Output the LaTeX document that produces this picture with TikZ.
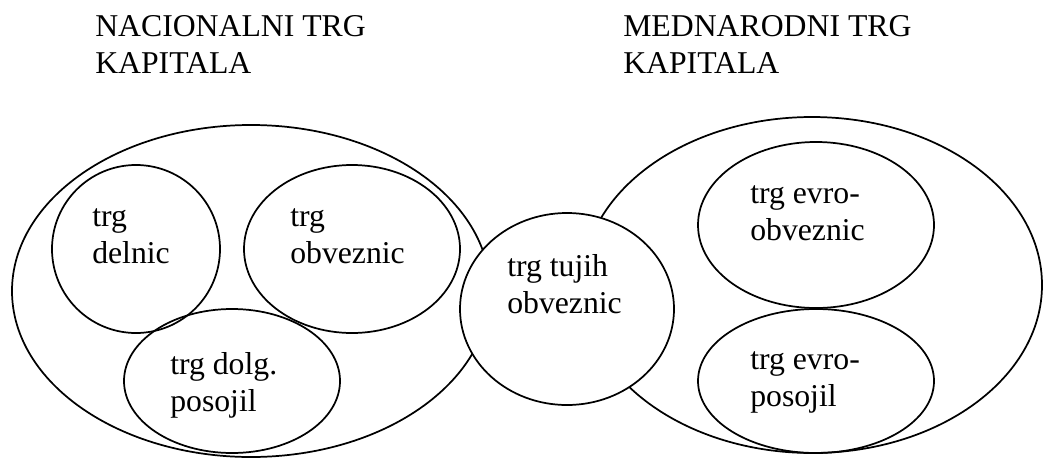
\documentclass[tikz,border=0pt]{standalone}
\usepackage{fontspec}
\setmainfont{Liberation Serif}
\usepackage{tikz}
\usetikzlibrary{shapes.geometric}

\begin{document}
\begin{tikzpicture}[x=0.75pt, y=-0.75pt]
                \tikzstyle{oval}=[ellipse, draw=black, line width=1.3pt, inner sep=0pt]
                \tikzstyle{txt}=[anchor=base west, align=left, inner sep=0pt, font=\fontsize{23.8pt}{27.3pt}\selectfont]

                \useasboundingbox (0,0) rectangle (1049,457);

                % naslova
                \node[txt] (nacional) at (95,73) {NACIONALNI TRG\\KAPITALA};
                \node[txt] (mednarod) at (623,73) {MEDNARODNI TRG\\KAPITALA};

                % nacionalni trg
                \node[oval, minimum width=358.5pt, minimum height=249pt] (nat) at (251,291) {};
                \node[oval, minimum width=126pt, minimum height=126pt] (delnic) at (136,249) {};
                \node[oval, minimum width=162pt, minimum height=126pt] (obv) at (352,249) {};
                \node[oval, minimum width=162pt, minimum height=108pt] (dolg) at (232,381) {};

                % mednarodni trg
                \node[oval, minimum width=345pt, minimum height=252pt] (med) at (812,285) {};
                \node[oval, minimum width=177pt, minimum height=124.5pt] (evroobv) at (816,225) {};
                \node[oval, minimum width=177pt, minimum height=108pt] (evropos) at (816,381) {};

                % tuje obveznice cez oba
                \node[oval, fill=white, minimum width=160.5pt, minimum height=144pt] (tujih) at (567,309) {};

                \node[txt] (delnic-t) at (92,263) {trg\\delnic};
                \node[txt] (obv-t) at (290,263) {trg\\obveznic};
                \node[txt] (dolg-t) at (170,411) {trg dolg.\\posojil};
                \node[txt] (tujih-t) at (507,313) {trg tujih\\obveznic};
                \node[txt] (evroobv-t) at (750,240) {trg evro-\\obveznic};
                \node[txt] (evropos-t) at (750,406) {trg evro-\\posojil};
            \end{tikzpicture}
\end{document}
